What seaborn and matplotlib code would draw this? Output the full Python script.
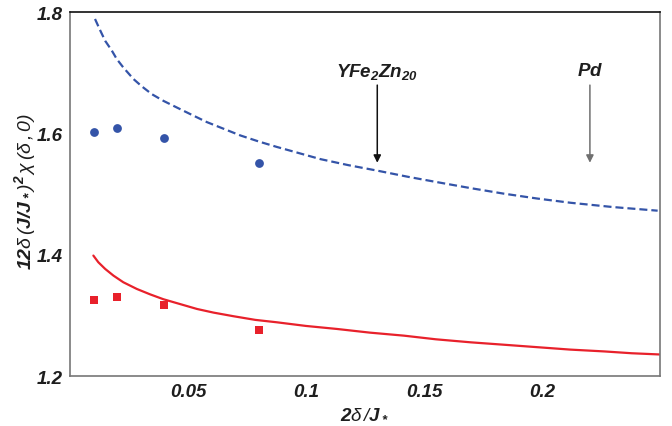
import matplotlib
matplotlib.use("Agg")
import matplotlib.pyplot as plt
import seaborn as sns
import pandas as pd

# Theory curves (dimensionless susceptibility vs 2*delta/J_*)
x_theory_blue = [0.0106, 0.0127, 0.0149, 0.0177, 0.0198, 0.0226, 0.0269, 0.0304,
                 0.0347, 0.0396, 0.0453, 0.0516, 0.0580, 0.0651, 0.0722, 0.0800,
                 0.0877, 0.0960, 0.1061, 0.1180, 0.1302, 0.1430, 0.1556, 0.1700,
                 0.1839, 0.1980, 0.2122, 0.2300, 0.2490]
y_theory_blue = [1.789, 1.771, 1.753, 1.737, 1.723, 1.709, 1.690, 1.678,
                 1.665, 1.654, 1.643, 1.631, 1.619, 1.608, 1.597, 1.587,
                 1.578, 1.569, 1.558, 1.548, 1.539, 1.529, 1.520, 1.510,
                 1.501, 1.493, 1.486, 1.479, 1.473]

x_theory_red = [0.0099, 0.0120, 0.0149, 0.0184, 0.0226, 0.0283, 0.0340, 0.0396,
                0.0467, 0.0538, 0.0608, 0.0693, 0.0785, 0.0877, 0.1000, 0.1132,
                0.1270, 0.1415, 0.1550, 0.1698, 0.1840, 0.1980, 0.2120, 0.2264,
                0.2380, 0.2498]
y_theory_red = [1.399, 1.388, 1.377, 1.366, 1.355, 1.344, 1.335, 1.327,
                1.319, 1.311, 1.305, 1.299, 1.293, 1.289, 1.283, 1.278,
                1.272, 1.267, 1.261, 1.256, 1.252, 1.248, 1.244, 1.241,
                1.238, 1.236]

# Numerical data points
x_points = [0.01, 0.02, 0.04, 0.08]
y_points_blue = [1.602, 1.610, 1.593, 1.552]
y_points_red = [1.326, 1.331, 1.318, 1.277]

# Materials marked on the curve
materials = [r"$\mathbf{YFe_2Zn_{20}}$", r"$\mathbf{Pd}$"]
material_x = [0.1302, 0.2203]

x_ticks = [0.05, 0.1, 0.15, 0.2]
x_tick_labels = ["0.05", "0.1", "0.15", "0.2"]
y_ticks = [1.2, 1.4, 1.6, 1.8]
y_tick_labels = ["1.2", "1.4", "1.6", "1.8"]

BLUE = "#3454a8"
RED = "#e8212b"
INK = "#1e1e1e"

sns.set_theme(style="white")
plt.rcParams["font.family"] = ["Liberation Sans", "DejaVu Sans"]
plt.rcParams["mathtext.fontset"] = "custom"
plt.rcParams["mathtext.rm"] = "Liberation Sans:italic"
plt.rcParams["mathtext.it"] = "Liberation Sans:italic"
plt.rcParams["mathtext.bf"] = "Liberation Sans:bold:italic"

fig = plt.figure(figsize=(6.72, 4.27), dpi=100)
ax = fig.add_axes([70 / 672, 1 - 377.3 / 427, 590 / 672, 364 / 427])

blue_df = pd.DataFrame({"x": x_theory_blue, "y": y_theory_blue})
red_df = pd.DataFrame({"x": x_theory_red, "y": y_theory_red})
sns.lineplot(data=blue_df, x="x", y="y", ax=ax, color=BLUE, lw=1.6,
             linestyle=(0, (3.6, 1.8)), sort=False)
sns.lineplot(data=red_df, x="x", y="y", ax=ax, color=RED, lw=1.6, sort=False)

pts_blue = pd.DataFrame({"x": x_points, "y": y_points_blue})
pts_red = pd.DataFrame({"x": x_points, "y": y_points_red})
sns.scatterplot(data=pts_blue, x="x", y="y", ax=ax, color=BLUE, marker="o",
                s=40, linewidth=0)
sns.scatterplot(data=pts_red, x="x", y="y", ax=ax, color=RED, marker="s",
                s=34, linewidth=0)

ax.set_xlim(0, 0.25)
ax.set_ylim(1.2, 1.8)

font = dict(fontsize=13.5, fontweight="bold", fontstyle="italic", color=INK)
ax.set_xticks(x_ticks)
ax.set_xticklabels(x_tick_labels, **font)
ax.set_yticks(y_ticks)
ax.set_yticklabels(y_tick_labels, **font)
ax.tick_params(axis="x", direction="in", length=4, width=1, color="#777777", pad=5)
ax.tick_params(axis="y", direction="out", length=3, width=1, color="#777777", pad=2)

for side in ["left", "bottom", "right"]:
    ax.spines[side].set_color("#777777")
    ax.spines[side].set_linewidth(1.2)
ax.spines["top"].set_color("#111111")
ax.spines["top"].set_linewidth(1.2)

ax.set_xlabel(r"$\mathbf{2}\delta\,/\mathbf{J_*}$", fontsize=13.5, color=INK, labelpad=3)
ax.set_ylabel(r"$\mathbf{12}\delta\,(\mathbf{J/J_*})^{\mathbf{2}}\,\chi\,(\delta\,,0)$",
              fontsize=14, color=INK)
ax.yaxis.set_label_coords(-0.054, 0.51)

arrow_colors = ["#111111", "#707070"]
for name, xm, col in zip(materials, material_x, arrow_colors):
    ax.annotate("", xy=(xm, 1.552), xytext=(xm, 1.680),
                arrowprops=dict(arrowstyle="-|>", color=col, lw=1.1,
                                mutation_scale=11, shrinkA=0, shrinkB=0))
    ax.text(xm, 1.704, name, ha="center", va="center", color=INK, fontsize=13.5)

fig.savefig("out.png", dpi=100)
